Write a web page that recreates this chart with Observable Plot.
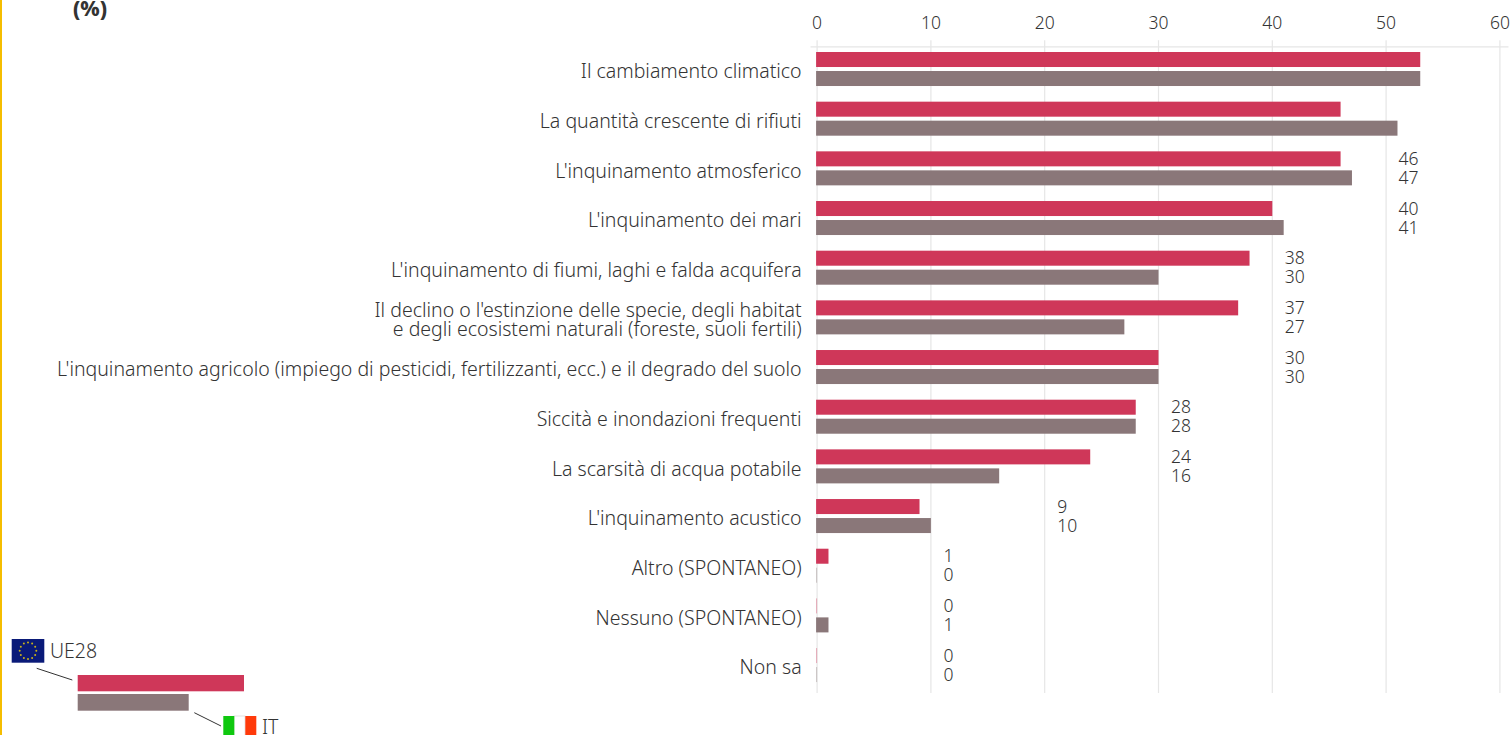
<!DOCTYPE html>
<html lang="it">
<head>
<meta charset="utf-8">
<script src="https://cdn.jsdelivr.net/npm/d3@7"></script>
<script src="https://cdn.jsdelivr.net/npm/@observablehq/plot@0.6"></script>
<style>
  html, body { margin: 0; padding: 0; background: #fff; overflow: hidden; width: 1511px; height: 735px; }
  #wrap { position: relative; width: 1511px; height: 735px; overflow: hidden; }
  #edge { position: absolute; left: 0; top: 0; width: 1.5px; height: 735px; background: #f5bd00; }
  #unit { position: absolute; left: 73px; top: 0; font: 800 21px/16px "Noto Sans", sans-serif; color: #333; }
  #legend { position: absolute; left: 0; top: 0; }
  svg { font-family: "Noto Sans", sans-serif; }
</style>
</head>
<body>
<div id="wrap">
  <div id="chart"></div>
  <div id="edge"></div>
  <div id="unit">(%)</div>
  <svg id="legend" width="300" height="735"></svg>
</div>
<script>
const categories = [
  "Il cambiamento climatico",
  "La quantità crescente di rifiuti",
  "L'inquinamento atmosferico",
  "L'inquinamento dei mari",
  "L'inquinamento di fiumi, laghi e falda acquifera",
  "Il declino o l'estinzione delle specie, degli habitat\ne degli ecosistemi naturali (foreste, suoli fertili)",
  "L'inquinamento agricolo (impiego di pesticidi, fertilizzanti, ecc.) e il degrado del suolo",
  "Siccità e inondazioni frequenti",
  "La scarsità di acqua potabile",
  "L'inquinamento acustico",
  "Altro (SPONTANEO)",
  "Nessuno (SPONTANEO)",
  "Non sa"
];
const ue28 = [53, 46, 46, 40, 38, 37, 30, 28, 24, 9, 1, 0, 0];
const it   = [53, 51, 47, 41, 30, 27, 30, 28, 16, 10, 0, 1, 0];
// Column (in axis units) where each row's printed values start; first two rows print none.
const labelAt = [null, null, 51.1, 51.1, 41.1, 41.1, 41.1, 31.1, 31.1, 21.1, 11.1, 11.1, 11.1];
const xTicks = [0, 10, 20, 30, 40, 50, 60];

const colUE = "#cf3759";
const colIT = "#8a7779";
const grid = "#e6e6e6";
const ink = "#333333";

const rows = categories.map((c, i) => ({c, ue: ue28[i], it: it[i], at: labelAt[i]}));
const labelled = rows.filter(d => d.at != null);

const chart = Plot.plot({
  width: 1511,
  height: 735,
  marginTop: 44.17,
  marginBottom: 45.1,
  marginLeft: 816.6,
  marginRight: 11.6,
  style: {background: "#fff", fontFamily: '"Noto Sans", sans-serif', overflow: "hidden"},
  x: {domain: [0, 60], label: null},
  y: {domain: categories, padding: 0, round: false, label: null},
  marks: [
    Plot.ruleX(xTicks, {stroke: grid, strokeWidth: 1.2, insetTop: -4, insetBottom: -3}),
    Plot.frame({anchor: "top", stroke: grid, strokeWidth: 1.2, dy: 2.2, insetLeft: -6, insetRight: -8}),
    Plot.barX(rows, {x: "ue", y: "c", fill: colUE, fillOpacity: d => d.ue === 0 ? 0.4 : 1, insetLeft: -0.5, insetRight: -0.5, insetTop: 7.83, insetBottom: 26.83}),
    Plot.barX(rows, {x: "it", y: "c", fill: colIT, fillOpacity: d => d.it === 0 ? 0.4 : 1, insetLeft: -0.5, insetRight: -0.5, insetTop: 26.83, insetBottom: 7.83}),
    Plot.text(labelled, {x: "at", y: "c", text: d => String(d.ue), dy: -9.6, textAnchor: "start", fontSize: 17.5, fontWeight: 300, fill: ink}),
    Plot.text(labelled, {x: "at", y: "c", text: d => String(d.it), dy: 9.6, textAnchor: "start", fontSize: 17.5, fontWeight: 300, fill: ink}),
    Plot.axisX(xTicks, {anchor: "top", tickSize: 0, tickPadding: 15.5, fontSize: 17.5, fontWeight: 300, fill: ink, label: null, tickFormat: d => String(d)}),
    Plot.axisY({anchor: "left", tickSize: 0, tickPadding: 15.5, fontSize: 19.5, fill: ink, label: null, lineWidth: 200, textOverflow: null, fontWeight: 300, dy: 2.5})
  ]
});
document.getElementById("chart").appendChild(chart);

// Key, flags and leader lines
const k = d3.select("#legend");
k.append("rect").attr("x", 77.7).attr("y", 675).attr("width", 166.3).attr("height", 16.3).attr("fill", colUE);
k.append("rect").attr("x", 77.7).attr("y", 694).attr("width", 111).attr("height", 16.7).attr("fill", colIT);
k.append("line").attr("x1", 36.7).attr("y1", 668.3).attr("x2", 72.3).attr("y2", 680).attr("stroke", ink).attr("stroke-width", 1);
k.append("line").attr("x1", 194.3).attr("y1", 712.7).attr("x2", 221).attr("y2", 726).attr("stroke", ink).attr("stroke-width", 1);
k.append("rect").attr("x", 11.7).attr("y", 639).attr("width", 32.6).attr("height", 23.7).attr("fill", "#0a1a78");
d3.range(12).forEach(i => {
  const a = i * Math.PI / 6;
  k.append("circle").attr("cx", 28 + 8.3 * Math.cos(a)).attr("cy", 650.8 + 8.3 * Math.sin(a)).attr("r", 1).attr("fill", "#c9b21a");
});
k.append("rect").attr("x", 234).attr("y", 716).attr("width", 11).attr("height", 24).attr("fill", "#ffffff").attr("stroke", "#e2e2e2");
k.append("rect").attr("x", 223.3).attr("y", 716).attr("width", 11).attr("height", 24).attr("fill", "#0fc80f");
k.append("rect").attr("x", 245.3).attr("y", 716).attr("width", 11).attr("height", 24).attr("fill", "#ff3a0a");
k.append("text").attr("x", 50).attr("y", 658).attr("font-size", 19.5).attr("font-weight", 300).attr("fill", ink).text("UE28");
k.append("text").attr("x", 262).attr("y", 734).attr("font-size", 19.5).attr("font-weight", 300).attr("fill", ink).text("IT");
</script>
</body>
</html>
